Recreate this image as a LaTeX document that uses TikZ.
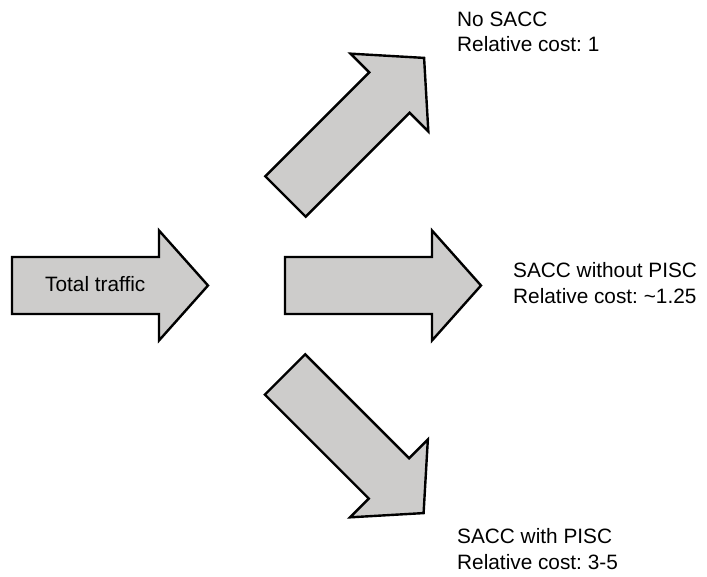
\documentclass[tikz,border=0pt]{standalone}
\usepackage{fontspec}
\setmainfont{Liberation Sans}[Ligatures=NoCommon]
\definecolor{arrowgray}{RGB}{205,204,203}
\frenchspacing
\begin{document}
\begin{tikzpicture}[x=1pt,y=-1pt,
  flow/.style={draw=black, fill=arrowgray, line width=2.4pt, line join=miter},
  lbl/.style={inner sep=0pt, font=\fontsize{20.8}{25.5}\selectfont, align=left},
  pics/bigarrow/.style={code={
    \path[flow] (0,-28.5) -- (147,-28.5) -- (147,-55) -- (196,0)
      -- (147,55) -- (147,28.5) -- (0,28.5) -- cycle;}}]
  \useasboundingbox (0,0) rectangle (707,577);
  % incoming traffic
  \pic (src) at (12,285.5) {bigarrow};
  % three outgoing routes
  \pic (up) [rotate=45] at (285.5,196.5) {bigarrow};
  \pic (mid) at (285,285.5) {bigarrow};
  \pic (down) [rotate=-45] at (285,374.5) {bigarrow};
  % labels (anchored at the baseline of their last line)
  \node[lbl, anchor=base west] (total) at (45,292) {Total traffic};
  \node[lbl, anchor=base west] (nosacc) at (457,52) {No SACC\\Relative cost: 1};
  \node[lbl, anchor=base west] (nopisc) at (513,303.5) {SACC without PISC\\Relative cost: \textasciitilde1.25};
  \node[lbl, anchor=base west] (pisc) at (457,569) {SACC with PISC\\Relative cost: 3-5};
\end{tikzpicture}
\end{document}
